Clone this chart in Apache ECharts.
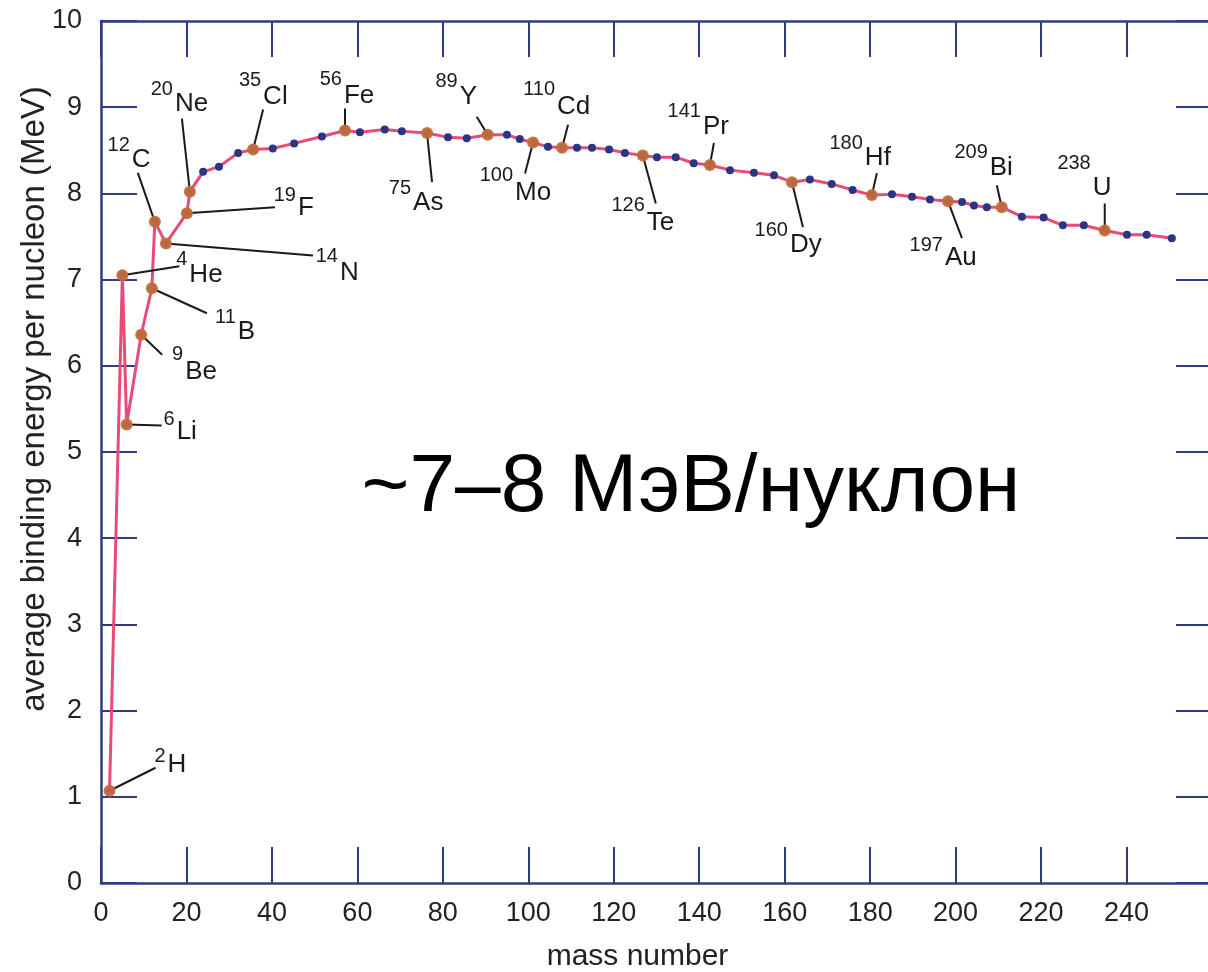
<!DOCTYPE html>
<html>
<head>
<meta charset="utf-8">
<script src="https://cdn.jsdelivr.net/npm/echarts@6/dist/echarts.min.js"></script>
<style>
html,body{margin:0;padding:0;background:#fff;overflow:hidden;}
#chart{width:1208px;height:972px;}
</style>
</head>
<body>
<div id="chart"></div>
<script>
// ---- data ----
var curveMass = [2, 5, 6, 9.4, 11.9, 12.6, 15.2, 20.1, 20.8, 23.9, 27.6, 32.1, 35.6, 40.2, 45.2, 51.7, 57.1, 60.6, 66.4,
  70.4, 76.3, 81.2, 85.6, 90.5, 95.0, 98.0, 101.1, 104.6, 107.9, 111.4, 114.9, 118.9, 122.6, 126.8, 130.1, 134.5, 138.7,
  142.5, 147.2, 152.8, 157.5, 161.7, 165.9, 171.0, 175.9, 180.4, 185.1, 189.8, 194.0, 198.2, 201.5, 204.3, 207.3, 210.8,
  215.5, 220.6, 225.1, 230.0, 234.9, 240.1, 244.7, 250.6];
var curveEnergy = [1.07, 7.05, 5.32, 6.36, 6.90, 7.67, 7.42, 7.77, 8.02, 8.25, 8.31, 8.47, 8.51, 8.52, 8.58, 8.66, 8.73, 8.71, 8.74,
  8.72, 8.70, 8.65, 8.64, 8.68, 8.68, 8.63, 8.59, 8.54, 8.53, 8.53, 8.53, 8.51, 8.47, 8.44, 8.42, 8.42, 8.35,
  8.33, 8.27, 8.24, 8.21, 8.13, 8.16, 8.11, 8.04, 7.98, 7.99, 7.96, 7.93, 7.91, 7.90, 7.86, 7.84, 7.84,
  7.73, 7.72, 7.63, 7.63, 7.57, 7.52, 7.52, 7.48];

var isoSymbol = ['H','He','Li','Be','B','C','N','F','Ne','Cl','Fe','As','Y','Mo','Cd','Te','Pr','Dy','Hf','Au','Bi','U'];
var isoMassNo = ['2','4','6','9','11','12','14','19','20','35','56','75','89','100','110','126','141','160','180','197','209','238'];
var isoX = [2, 5, 6, 9.4, 11.9, 12.6, 15.2, 20.1, 20.8, 35.6, 57.1, 76.3, 90.5, 101.1, 107.9, 126.8, 142.5, 161.7, 180.4, 198.2, 210.8, 234.9];
var isoE = [1.07, 7.05, 5.32, 6.36, 6.90, 7.67, 7.42, 7.77, 8.02, 8.51, 8.73, 8.70, 8.68, 8.59, 8.53, 8.44, 8.33, 8.13, 7.98, 7.91, 7.84, 7.57];

var xTicks = [0, 20, 40, 60, 80, 100, 120, 140, 160, 180, 200, 220, 240];
var yTicks = [0, 1, 2, 3, 4, 5, 6, 7, 8, 9, 10];

var xAxisTitle = 'mass number';
var yAxisTitle = 'average binding energy per nucleon (MeV)';
var noteText = '~7–8 МэВ/нуклон';

// ---- label styling: pixel offsets from the point [leaderX, leaderY, symbolX, symbolY, superscriptDy] ----
var labelOffsets = [
  [46,-23,58,-26,-8], [57,-9,67,0,-16], [35,1,50,7,-12], [21,20,44,37,-17], [55,25,86,44,-15],
  [-17,-49,-23,-62,-14], [147,12,174,29,-16], [88,-6,111,-5,-13], [-8,-73,-15,-88,-14],
  [10,-40,10,-53,-16], [0,-22,-1,-35,-16], [5,49,-14,70,-15], [-11,-18,-28,-38,-15],
  [-8,31,-18,50,-17], [6,-23,-5,-41,-17], [13,48,4,67,-17], [4,-22,-7,-38,-15],
  [11,45,-2,63,-15], [5,-22,-7,-37,-15], [14,37,-3,57,-13], [-5,-22,-12,-39,-16], [0,-27,-12,-43,-24]
];

var FONT = '"Liberation Sans", Arial, Helvetica, sans-serif';
var AXIS_COLOR = '#2f3d7e';

var curveData = curveMass.map(function (m, i) { return [m, curveEnergy[i]]; });
var isoData = isoX.map(function (m, i) { return [m, isoE[i]]; });

var chart = echarts.init(document.getElementById('chart'), null, {renderer: 'canvas'});

var tickCommon = {show: true, inside: true, length: 36, lineStyle: {color: AXIS_COLOR, width: 2}};
var lineCommon = {show: true, onZero: false, lineStyle: {color: AXIS_COLOR, width: 2.5}};

var option = {
  backgroundColor: '#ffffff',
  animation: false,
  grid: {left: 101, top: 21, width: 1111, height: 862, containLabel: false, outerBoundsMode: 'none'},
  xAxis: [{
    type: 'value', min: 0, max: 260, interval: 20, position: 'bottom',
    axisLine: lineCommon, axisTick: tickCommon, splitLine: {show: false},
    axisLabel: {
      show: true, margin: 17, color: '#222', fontSize: 27, fontFamily: FONT,
      formatter: function (v) { return xTicks.indexOf(v) >= 0 ? String(v) : ''; }
    },
    name: xAxisTitle, nameLocation: 'middle', nameGap: 59, nameMoveOverlap: false,
    nameTextStyle: {color: '#222', fontSize: 30, fontFamily: FONT, padding: [0, 38, 0, 0]}
  }, {
    type: 'value', min: 0, max: 260, interval: 20, position: 'top',
    axisLine: lineCommon, axisTick: tickCommon, splitLine: {show: false}, axisLabel: {show: false}
  }],
  yAxis: [{
    type: 'value', min: 0, max: 10, interval: 1, position: 'left',
    axisLine: lineCommon, axisTick: tickCommon, splitLine: {show: false},
    axisLabel: {
      show: true, margin: 19, color: '#222', fontSize: 27, fontFamily: FONT,
      formatter: function (v) { return yTicks.indexOf(v) >= 0 ? String(v) : ''; }
    },
    name: yAxisTitle, nameLocation: 'middle', nameGap: 50, nameRotate: 90, nameMoveOverlap: false,
    nameTextStyle: {color: '#222', fontSize: 33, fontFamily: FONT, padding: [0, 0, 0, 106]}
  }, {
    type: 'value', min: 0, max: 10, interval: 1, position: 'right',
    axisLine: lineCommon, axisTick: tickCommon, splitLine: {show: false}, axisLabel: {show: false}
  }],
  graphic: [{
    type: 'text',
    style: {text: noteText, x: 691, y: 488, align: 'center', verticalAlign: 'middle',
      fill: '#000', font: '82px ' + FONT}
  }],
  series: [{
    type: 'line', data: curveData, xAxisIndex: 0, yAxisIndex: 0,
    lineStyle: {color: '#e94a76', width: 3},
    symbol: 'circle', symbolSize: 8,
    itemStyle: {color: '#2a3585', borderWidth: 0},
    z: 3, silent: true
  }, {
    type: 'scatter', data: isoData, xAxisIndex: 0, yAxisIndex: 0,
    symbol: 'circle', symbolSize: 12,
    itemStyle: {color: '#c26d3c', opacity: 0.95},
    z: 5, silent: true
  }, {
    type: 'custom', data: isoData, xAxisIndex: 0, yAxisIndex: 0, z: 4, silent: true,
    renderItem: function (params, api) {
      var i = params.dataIndex;
      var p = api.coord([api.value(0), api.value(1)]);
      var o = labelOffsets[i];
      return {
        type: 'group',
        children: [{
          type: 'line',
          shape: {x1: p[0], y1: p[1], x2: p[0] + o[0], y2: p[1] + o[1]},
          style: {stroke: '#1a1a1a', lineWidth: 2}
        }, {
          type: 'text',
          style: {text: isoMassNo[i], x: p[0] + o[2] - 2, y: p[1] + o[3] + o[4],
            align: 'right', verticalAlign: 'middle', fill: '#1a1a1a', font: '20px ' + FONT}
        }, {
          type: 'text',
          style: {text: isoSymbol[i], x: p[0] + o[2], y: p[1] + o[3],
            align: 'left', verticalAlign: 'middle', fill: '#1a1a1a', font: '26px ' + FONT}
        }]
      };
    }
  }]
};
chart.setOption(option);
</script>
</body>
</html>
